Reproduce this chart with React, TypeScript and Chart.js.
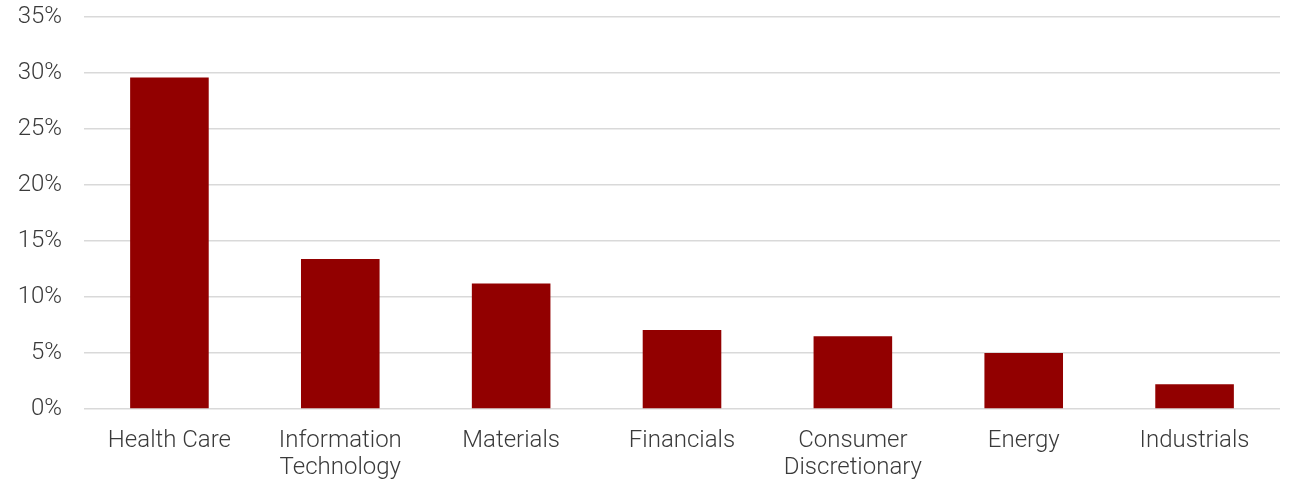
import React, { useEffect, useRef } from "react";
import { Chart, registerables } from "chart.js";

Chart.register(...registerables);

const categories: (string | string[])[] = [
  "Health Care",
  ["Information", "Technology"],
  "Materials",
  "Financials",
  ["Consumer", "Discretionary"],
  "Energy",
  "Industrials",
];
const values: number[] = [29.6, 13.4, 11.2, 7.05, 6.5, 5.0, 2.2];
const yTicks: number[] = [0, 5, 10, 15, 20, 25, 30, 35];

export default function App() {
  const ref = useRef<HTMLCanvasElement | null>(null);
  useEffect(() => {
    document.body.style.margin = "0";
    if (!ref.current) return;
    const font = { family: "Roboto", size: 24, weight: 300 as any, lineHeight: 1.15 };
    const chart = new Chart(ref.current, {
      type: "bar",
      data: {
        labels: categories,
        datasets: [
          {
            data: values,
            backgroundColor: "#920000",
            barPercentage: 0.46,
            categoryPercentage: 1,
          },
        ],
      },
      options: {
        animation: false,
        responsive: true,
        maintainAspectRatio: false,
        layout: { padding: { top: 0, right: 17, left: 0, bottom: 0 } },
        plugins: { legend: { display: false }, tooltip: { enabled: false } },
        scales: {
          x: {
            grid: { display: false, drawTicks: false, tickLength: 0 },
            border: { display: false },
            afterFit: (axis: any) => {
              axis.height = 73;
            },
            ticks: { color: "#3a3a3a", font, maxRotation: 0, autoSkip: false, padding: 18 },
          },
          y: {
            min: 0,
            max: 35,
            afterBuildTicks: (axis: any) => {
              axis.ticks = yTicks.map((v) => ({ value: v }));
            },
            afterFit: (axis: any) => {
              axis.width = 84;
              axis.paddingTop = 17;
              axis.paddingBottom = 0;
            },
            grid: { color: "#d9d9d9", lineWidth: 1.5, drawTicks: false },
            border: { display: false },
            ticks: {
              color: "#3a3a3a",
              font,
              padding: 22,
              callback: (v: any) => `${v}%`,
            },
          },
        },
      },
    });
    return () => chart.destroy();
  }, []);
  return (
    <div style={{ width: 1297, height: 482, position: "relative" }}>
      <canvas ref={ref} />
    </div>
  );
}
